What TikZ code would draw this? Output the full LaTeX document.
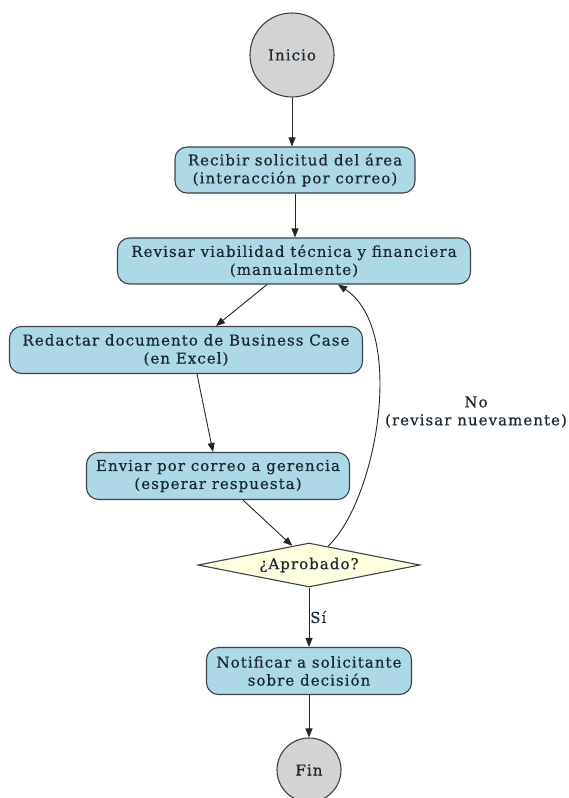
\documentclass[tikz,border=0pt]{standalone}
\usepackage{fontspec}
\setmainfont{DejaVu Serif}[LetterSpace=7,FakeBold=0.5]
\usetikzlibrary{shapes.geometric,arrows.meta,calc}
\definecolor{boxfill}{HTML}{ADD8E6}
\definecolor{circfill}{HTML}{D3D3D3}
\definecolor{diafill}{HTML}{FFFFE0}
\definecolor{edgecol}{HTML}{3A4448}
\definecolor{txtcol}{HTML}{1A2730}
\tikzset{
  every node/.style={font=\fontsize{15}{18}\selectfont, text=txtcol},
  procbox/.style={draw=edgecol, line width=1.1pt, fill=boxfill, rounded corners=12pt, align=center, inner sep=2pt},
  termcirc/.style={draw=edgecol, line width=1.1pt, fill=circfill, circle, inner sep=0pt},
  decision/.style={draw=edgecol, line width=1.1pt, fill=diafill, diamond, aspect=5, inner sep=0pt},
  flow/.style={draw=black!85, line width=0.9pt, -{Triangle[length=9pt,width=7pt]}},
  plainlabel/.style={align=center, inner sep=1pt}
}
\begin{document}
\begin{tikzpicture}[x=1pt,y=-1pt]
\useasboundingbox (0,0) rectangle (569,798);
\clip (0,0) rectangle (569,798);
\node[termcirc, minimum size=84pt] (start) at (292,55) {Inicio};
\node[procbox, minimum width=240pt, minimum height=46pt] (b1) at (295,170) {Recibir solicitud del área\\(interacción por correo)};
\node[procbox, minimum width=353pt, minimum height=46pt] (b2) at (294,261) {Revisar viabilidad técnica y financiera\\(manualmente)};
\node[procbox, minimum width=353pt, minimum height=47pt] (b3) at (186,350) {Redactar documento de Business Case\\(en Excel)};
\node[procbox, minimum width=263pt, minimum height=47pt] (b4) at (218,476) {Enviar por correo a gerencia\\(esperar respuesta)};
\node[decision, minimum width=222pt, minimum height=44pt] (dia) at (309,565) {¿Aprobado?};
\node[procbox, minimum width=205pt, minimum height=47pt] (b5) at (309,671) {Notificar a solicitante\\sobre decisión};
\node[termcirc, minimum size=64pt] (fin) at (309,770) {Fin};
\node[plainlabel] (nolab) at (476,412) {No\\(revisar nuevamente)};
\node[plainlabel, anchor=west] (silab) at (309,617) {Sí};
\coordinate (d1) at ($(dia.north)!0.15!(dia.west)$);
\coordinate (d2) at ($(dia.north)!0.17!(dia.east)$);
\draw[flow] (start.south) -- (start.south |- b1.north);
\draw[flow] (b1.south) -- (b1.south |- b2.north);
\draw[flow] ([xshift=-27pt]b2.south) -- ([xshift=30pt]b3.north);
\draw[flow] ([xshift=11pt]b3.south) -- ([xshift=-5pt]b4.north);
\draw[flow] ([xshift=25pt]b4.south) -- (d1);
\draw[flow] (d2) .. controls (377,500) and (407,330) .. ([xshift=44pt]b2.south);
\draw[flow] (dia.south) -- (b5.north);
\draw[flow] (b5.south) -- (fin.north);
\end{tikzpicture}
\end{document}
